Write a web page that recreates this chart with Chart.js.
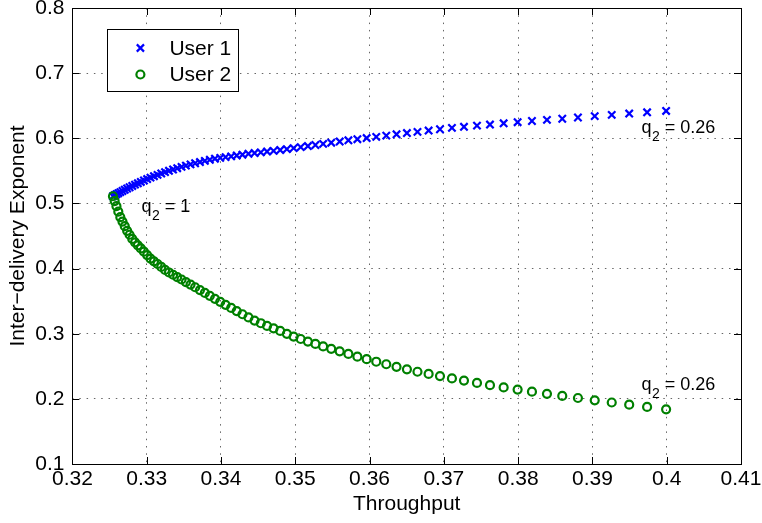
<!DOCTYPE html>
<html>
<head>
<meta charset="utf-8">
<script src="https://cdn.jsdelivr.net/npm/chart.js@4.4.1/dist/chart.umd.min.js"></script>
<style>
html,body{margin:0;padding:0;background:#fff;}
#c{display:block;}
</style>
</head>
<body>
<canvas id="c" width="762" height="523"></canvas>
<script>
// ---------------- data ----------------
const throughput = [0.32546,0.32569,0.32593,0.32618,0.32645,0.32674,0.32705,0.32737,0.32770,0.32806,
  0.32843,0.32881,0.32921,0.32963,0.33006,0.33051,0.33098,0.33146,0.33196,0.33247,
  0.33300,0.33355,0.33411,0.33469,0.33528,0.33590,0.33652,0.33717,0.33783,0.33850,
  0.33919,0.33990,0.34062,0.34137,0.34212,0.34289,0.34370,0.34452,0.34536,0.34620,
  0.34708,0.34797,0.34887,0.34978,0.35073,0.35170,0.35271,0.35375,0.35484,0.35598,
  0.35715,0.35836,0.35961,0.36090,0.36225,0.36363,0.36503,0.36645,0.36795,0.36948,
  0.37109,0.37271,0.37446,0.37621,0.37805,0.37993,0.38186,0.38388,0.38594,0.38805,
  0.39031,0.39260,0.39495,0.39736,0.39992];
const user1 = [0.5110,0.5125,0.5141,0.5157,0.5174,0.5192,0.5210,0.5229,0.5248,0.5268,
  0.5288,0.5309,0.5330,0.5352,0.5374,0.5396,0.5418,0.5439,0.5460,0.5481,
  0.5501,0.5521,0.5541,0.5561,0.5580,0.5599,0.5617,0.5635,0.5653,0.5670,
  0.5687,0.5699,0.5711,0.5723,0.5735,0.5748,0.5762,0.5773,0.5784,0.5796,
  0.5807,0.5819,0.5833,0.5849,0.5865,0.5881,0.5897,0.5914,0.5932,0.5950,
  0.5969,0.5986,0.6004,0.6022,0.6041,0.6061,0.6080,0.6099,0.6119,0.6139,
  0.6160,0.6176,0.6194,0.6211,0.6230,0.6247,0.6265,0.6283,0.6300,0.6319,
  0.6340,0.6360,0.6380,0.6399,0.6420];
const user2 = [0.5110,0.5036,0.4958,0.4874,0.4789,0.4722,0.4651,0.4579,0.4519,0.4455,
  0.4403,0.4357,0.4309,0.4260,0.4207,0.4154,0.4112,0.4070,0.4025,0.3979,
  0.3940,0.3905,0.3869,0.3832,0.3793,0.3754,0.3713,0.3670,0.3626,0.3581,
  0.3535,0.3489,0.3443,0.3396,0.3347,0.3299,0.3250,0.3202,0.3161,0.3120,
  0.3082,0.3043,0.2999,0.2956,0.2919,0.2880,0.2843,0.2805,0.2768,0.2730,
  0.2690,0.2648,0.2609,0.2570,0.2531,0.2492,0.2454,0.2416,0.2383,0.2349,
  0.2314,0.2280,0.2245,0.2210,0.2175,0.2142,0.2110,0.2078,0.2045,0.2013,
  0.1978,0.1944,0.1910,0.1876,0.1840];
const seriesNames = ['User 1', 'User 2'];
const xTickValues = [0.32,0.33,0.34,0.35,0.36,0.37,0.38,0.39,0.40,0.41];
const xTickLabels = ['0.32','0.33','0.34','0.35','0.36','0.37','0.38','0.39','0.4','0.41'];
const yTickValues = [0.1,0.2,0.3,0.4,0.5,0.6,0.7,0.8];
const yTickLabels = ['0.1','0.2','0.3','0.4','0.5','0.6','0.7','0.8'];
const xTitle = 'Throughput';
const yTitle = 'Inter\u2212delivery Exponent';
// annotations: left x, baseline y (data units), value after "q2 = "
const annX = [0.3293, 0.3966, 0.3966];
const annY = [0.4865, 0.6078, 0.2136];
const annValue = ['1', '0.26', '0.26'];

// ---------------- style ----------------
const FONT = "'Liberation Sans', Arial, Helvetica, sans-serif";
const BLUE = '#0000ff', GREEN = '#008000';

const boxPlugin = {
  id: 'matlabBox',
  afterDraw(chart) {
    const {ctx, chartArea: a, scales} = chart;
    const xs = scales.x, ys = scales.y;
    ctx.save();
    ctx.strokeStyle = '#000';
    ctx.lineWidth = 1;
    ctx.setLineDash([]);
    // ticks inward
    ctx.beginPath();
    const TL = 7;
    xTickValues.forEach(v => {
      const px = Math.round(xs.getPixelForValue(v)) + 0.5;
      ctx.moveTo(px, a.bottom); ctx.lineTo(px, a.bottom - TL);
      ctx.moveTo(px, a.top); ctx.lineTo(px, a.top + TL);
    });
    yTickValues.forEach(v => {
      const py = Math.round(ys.getPixelForValue(v)) + 0.5;
      ctx.moveTo(a.left, py); ctx.lineTo(a.left + TL, py);
      ctx.moveTo(a.right, py); ctx.lineTo(a.right - TL, py);
    });
    ctx.stroke();
    // box
    const l = Math.round(a.left) + 0.5, r = Math.round(a.right) + 0.5;
    const t = Math.round(a.top) + 0.5, b = Math.round(a.bottom) + 0.5;
    ctx.strokeRect(l, t, r - l, b - t);

    // annotations
    ctx.fillStyle = '#000';
    ctx.textBaseline = 'alphabetic';
    ctx.textAlign = 'left';
    for (let i = 0; i < annX.length; i++) {
      let x = xs.getPixelForValue(annX[i]);
      const y = ys.getPixelForValue(annY[i]);
      ctx.font = '18px ' + FONT;
      ctx.fillText('q', x, y);
      x += ctx.measureText('q').width + 0.5;
      ctx.font = '14px ' + FONT;
      ctx.fillText('2', x, y + 8);
      x += ctx.measureText('2').width;
      ctx.font = '18px ' + FONT;
      ctx.fillText(' = ' + annValue[i], x, y);
    }

    // legend
    const lx = a.left + 35, ly = a.top + 21, lw = 131, lh = 62;
    ctx.fillStyle = '#fff';
    ctx.fillRect(Math.round(lx) + 0.5, Math.round(ly) + 0.5, lw, lh);
    ctx.strokeStyle = '#000';
    ctx.lineWidth = 1;
    ctx.strokeRect(Math.round(lx) + 0.5, Math.round(ly) + 0.5, lw, lh);
    const rows = [ly + 19, ly + 45.5];
    // marker 1: rotated cross
    ctx.strokeStyle = BLUE; ctx.lineWidth = 2.2;
    const mx = lx + 33;
    const d = 3.6;
    ctx.beginPath();
    ctx.moveTo(mx - d, rows[0] - d); ctx.lineTo(mx + d, rows[0] + d);
    ctx.moveTo(mx - d, rows[0] + d); ctx.lineTo(mx + d, rows[0] - d);
    ctx.stroke();
    ctx.strokeStyle = GREEN; ctx.lineWidth = 2.2;
    ctx.beginPath();
    ctx.arc(mx, rows[1], 4.0, 0, Math.PI * 2);
    ctx.stroke();
    ctx.fillStyle = '#000';
    ctx.font = '21px ' + FONT;
    ctx.textBaseline = 'middle';
    ctx.fillText(seriesNames[0], lx + 62, rows[0] + 1);
    ctx.fillText(seriesNames[1], lx + 62, rows[1] + 1);
    ctx.restore();
  }
};

const toPts = (ys) => throughput.map((x, i) => ({x, y: ys[i]}));

new Chart(document.getElementById('c'), {
  type: 'scatter',
  data: {
    datasets: [
      {label: seriesNames[0], data: toPts(user1), pointStyle: 'crossRot', pointRadius: 5.2,
       pointBorderWidth: 2.2, borderColor: BLUE, backgroundColor: BLUE, showLine: false, order: 2},
      {label: seriesNames[1], data: toPts(user2), pointStyle: 'circle', pointRadius: 4.0,
       pointBorderWidth: 2.2, borderColor: GREEN, backgroundColor: 'rgba(0,0,0,0)', showLine: false, order: 1}
    ]
  },
  options: {
    responsive: false,
    animation: false,
    devicePixelRatio: 1,
    events: [],
    layout: {padding: {top: 8, right: 21, left: 0, bottom: 0}},
    plugins: {legend: {display: false}, tooltip: {enabled: false}},
    scales: {
      x: {
        type: 'linear', min: 0.32, max: 0.41,
        afterBuildTicks: s => { s.ticks = xTickValues.map(v => ({value: v})); },
        afterFit: s => { s.height = 59; s.paddingLeft = 0; s.paddingRight = 0; },
        ticks: {autoSkip: false, maxRotation: 0, padding: 3, color: '#000',
                font: {family: FONT, size: 21},
                callback: (v, i) => xTickLabels[i]},
        grid: {color: 'rgba(0,0,0,0.6)', lineWidth: 1, drawTicks: false, tickLength: 0},
        border: {display: false, dash: [1.5, 5.8]},
        title: {display: true, text: xTitle, color: '#000', font: {family: FONT, size: 21},
                padding: {top: 0, bottom: 6}}
      },
      y: {
        type: 'linear', min: 0.1, max: 0.8,
        afterBuildTicks: s => { s.ticks = yTickValues.map(v => ({value: v})); },
        afterFit: s => { s.width = 72.4; s.paddingTop = 0; s.paddingBottom = 0; },
        ticks: {autoSkip: false, padding: 8, color: '#000',
                font: {family: FONT, size: 21},
                callback: (v, i) => yTickLabels[i]},
        grid: {color: 'rgba(0,0,0,0.6)', lineWidth: 1, drawTicks: false, tickLength: 0},
        border: {display: false, dash: [1.5, 5.8]},
        title: {display: true, text: yTitle, color: '#000', font: {family: FONT, size: 21},
                padding: {top: 6, bottom: 0}}
      }
    }
  },
  plugins: [boxPlugin]
});
</script>
</body>
</html>
